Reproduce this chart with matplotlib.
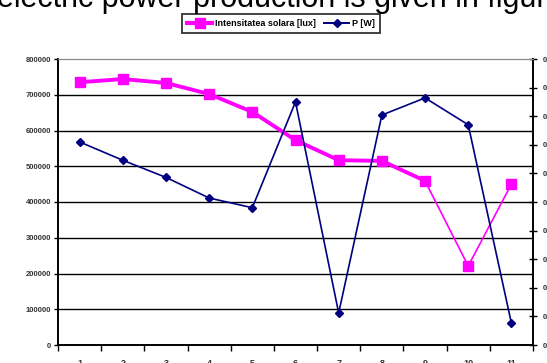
import matplotlib
matplotlib.use("Agg")
import matplotlib.pyplot as plt
from matplotlib.lines import Line2D
from matplotlib.ticker import FixedLocator, NullFormatter

plt.rcParams['font.family'] = ['Liberation Sans', 'DejaVu Sans']

# Measurement index (categories along the x axis)
categories = [str(i) for i in range(1, 12)]
# Solar intensity [lux], left axis
intensity = [735000, 744000, 733000, 702000, 652000, 573000,
             517000, 515000, 459000, 221000, 450000]
# Electric power [W], right axis
power = [0.355, 0.323, 0.293, 0.257, 0.240, 0.425,
         0.056, 0.402, 0.432, 0.385, 0.038]

left_ticks = list(range(0, 800001, 100000))
right_ticks = [i * 0.05 for i in range(11)]
right_labels = ["0"] + [f"{v:.2f}".replace(".", ",").rstrip("0") for v in right_ticks[1:]]

W, H = 547, 363
fig = plt.figure(figsize=(W / 100, H / 100), dpi=100)
ax = fig.add_axes([58 / W, 18 / H, (533 - 58) / W, (345 - 59) / H])
ax2 = ax.twinx()

x = list(range(len(categories)))

# Horizontal gridlines
for v in left_ticks[1:-1]:
    ax.axhline(v, color="black", lw=1.0, zorder=1)

# Solar intensity series: thick trace through first nine points, thin afterwards
ax.plot(x[:9], intensity[:9], color="#ff00ff", lw=2.8, zorder=3)
ax.plot(x[8:], intensity[8:], color="#ff00ff", lw=1.2, zorder=3)
ax.plot(x, intensity, ls="none", marker="s", ms=7.5, color="#ff00ff", zorder=4)

# Power series on secondary axis
ax2.plot(x, power, color="#000080", lw=1.2, marker="D", ms=4.5, zorder=3)

ax.set_xlim(-0.5, len(categories) - 0.5)
ax.set_ylim(0, 800000)
ax2.set_ylim(0, 0.5)

ax.set_yticks(left_ticks)
ax.set_yticklabels([str(v) for v in left_ticks], fontsize=5.5, fontweight="bold", color="#333333")
ax.tick_params(axis="y", direction="out", length=3, width=1, pad=2)

ax.xaxis.set_major_locator(FixedLocator([i + 0.5 for i in range(-1, len(categories))]))
ax.xaxis.set_major_formatter(NullFormatter())
ax.xaxis.set_minor_locator(FixedLocator(x))
ax.set_xticklabels(categories, minor=True, fontsize=6.5, fontweight="bold", color="#333333")
ax.tick_params(axis="x", which="major", direction="out", length=4, width=1)
ax.tick_params(axis="x", which="minor", length=0, pad=10)

ax2.set_yticks(right_ticks)
ax2.set_yticklabels(right_labels, fontsize=5.5, fontweight="bold", color="#333333")
ax2.tick_params(axis="y", direction="inout", length=6, width=1, pad=4)

for a in (ax, ax2):
    a.spines["top"].set_color("#888888")
    a.spines["left"].set_linewidth(1.2)
    a.spines["right"].set_linewidth(1.2)
    a.spines["bottom"].set_linewidth(1.2)

# Legend
handles = [
    Line2D([], [], color="#ff00ff", lw=3.0, marker="s", ms=7),
    Line2D([], [], color="#000080", lw=1.4, marker="D", ms=4.5),
]
leg = fig.legend(handles, ["Intensitatea solara [lux]", "P [W]"],
                 loc="center", bbox_to_anchor=(281 / W, 1 - 23.5 / H), ncol=2,
                 fontsize=6.5, frameon=True, fancybox=False, handlelength=2.8,
                 handletextpad=0.3, columnspacing=0.9, borderpad=0.6)
leg.get_frame().set_edgecolor("black")
leg.get_frame().set_linewidth(1.3)
for t in leg.get_texts():
    t.set_fontweight("bold")

# Surrounding document text
fig.text(-0.006, 1 - 7.5 / H, "electric power production is given in figure",
         fontsize=22, ha="left", va="baseline", color="black")

fig.savefig("out.png", dpi=100)
